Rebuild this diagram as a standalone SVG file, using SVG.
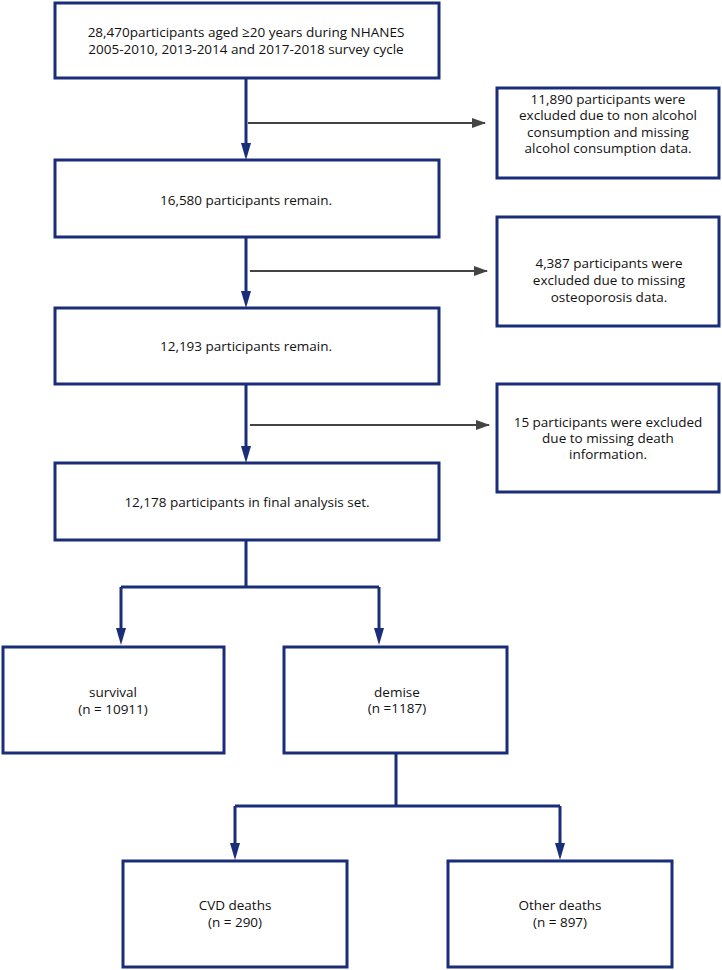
<svg xmlns="http://www.w3.org/2000/svg" width="722" height="970" viewBox="0 0 722 970">
<defs>
<style>
.box{fill:#fff;stroke:#1a2d78;stroke-width:3}
.flow{fill:none;stroke:#1a2d78;stroke-width:3}
.ex{fill:none;stroke:#444;stroke-width:2}
.arr{fill:#1a2d78}
text{font-family:"Open Sans","Noto Sans",sans-serif;font-size:13.5px;fill:#111;text-anchor:middle}
</style>
<marker id="ag" markerUnits="userSpaceOnUse" markerWidth="14" markerHeight="10" viewBox="0 0 14 10" refX="13" refY="5" orient="auto">
<path d="M0,0 L14,5 L0,10 Z" fill="#444"/>
</marker>
</defs>
<rect width="722" height="970" fill="#fff"/>
<g id="connectors">
<path class="flow" d="M246,78 V143"/>
<polygon class="arr" points="241,143 251,143 246,160"/>
<path class="flow" d="M246,237 V291"/>
<polygon class="arr" points="241,291 251,291 246,308"/>
<path class="flow" d="M246,384 V446"/>
<polygon class="arr" points="241,446 251,446 246,463"/>
<path class="flow" d="M246,540 V587 M121,587 H379 M121,587 V629 M379,587 V629"/>
<polygon class="arr" points="116,628 126,628 121,645"/>
<polygon class="arr" points="374,628 384,628 379,645"/>
<path class="flow" d="M396,753 V806 M235,806 H560 M235,806 V844 M560,806 V844"/>
<polygon class="arr" points="230,843 240,843 235,860"/>
<polygon class="arr" points="555,843 565,843 560,860"/>
<path class="ex" d="M248,123 H485" marker-end="url(#ag)"/>
<path class="ex" d="M250,271 H487" marker-end="url(#ag)"/>
<path class="ex" d="M250,425 H489" marker-end="url(#ag)"/>
</g>
<g id="n1"><rect class="box" x="55" y="3" width="384" height="75"/>
<text x="246" y="37">28,470participants aged ≥20 years during NHANES</text>
<text x="246" y="54">2005-2010, 2013-2014 and 2017-2018 survey cycle</text></g>
<g id="e1"><rect class="box" x="497" y="88" width="222" height="90"/>
<text x="608" y="104">11,890 participants were</text>
<text x="608" y="120">excluded due to non alcohol</text>
<text x="608" y="137">consumption and missing</text>
<text x="608" y="153">alcohol consumption data.</text></g>
<g id="n2"><rect class="box" x="55" y="160" width="384" height="77"/>
<text x="246" y="205">16,580 participants remain.</text></g>
<g id="e2"><rect class="box" x="497" y="217" width="222" height="109"/>
<text x="609" y="268">4,387 participants were</text>
<text x="609" y="285">excluded due to missing</text>
<text x="609" y="302">osteoporosis data.</text></g>
<g id="n3"><rect class="box" x="55" y="308" width="384" height="76"/>
<text x="246" y="351">12,193 participants remain.</text></g>
<g id="e3"><rect class="box" x="497" y="384" width="222" height="108"/>
<text x="608" y="427">15 participants were excluded</text>
<text x="608" y="443">due to missing death</text>
<text x="608" y="459">information.</text></g>
<g id="n4"><rect class="box" x="55" y="463" width="384" height="77"/>
<text x="247" y="507">12,178 participants in final analysis set.</text></g>
<g id="survival"><rect class="box" x="3" y="647" width="221" height="106"/>
<text x="113" y="697">survival</text>
<text x="113" y="714">(n = 10911)</text></g>
<g id="demise"><rect class="box" x="284" y="647" width="223" height="106"/>
<text x="397" y="697">demise</text>
<text x="397" y="713">(n =1187)</text></g>
<g id="cvd"><rect class="box" x="123" y="861" width="224" height="106"/>
<text x="235" y="910">CVD deaths</text>
<text x="235" y="927">(n = 290)</text></g>
<g id="other"><rect class="box" x="448" y="861" width="224" height="106"/>
<text x="560" y="910">Other deaths</text>
<text x="560" y="927">(n = 897)</text></g>
</svg>
